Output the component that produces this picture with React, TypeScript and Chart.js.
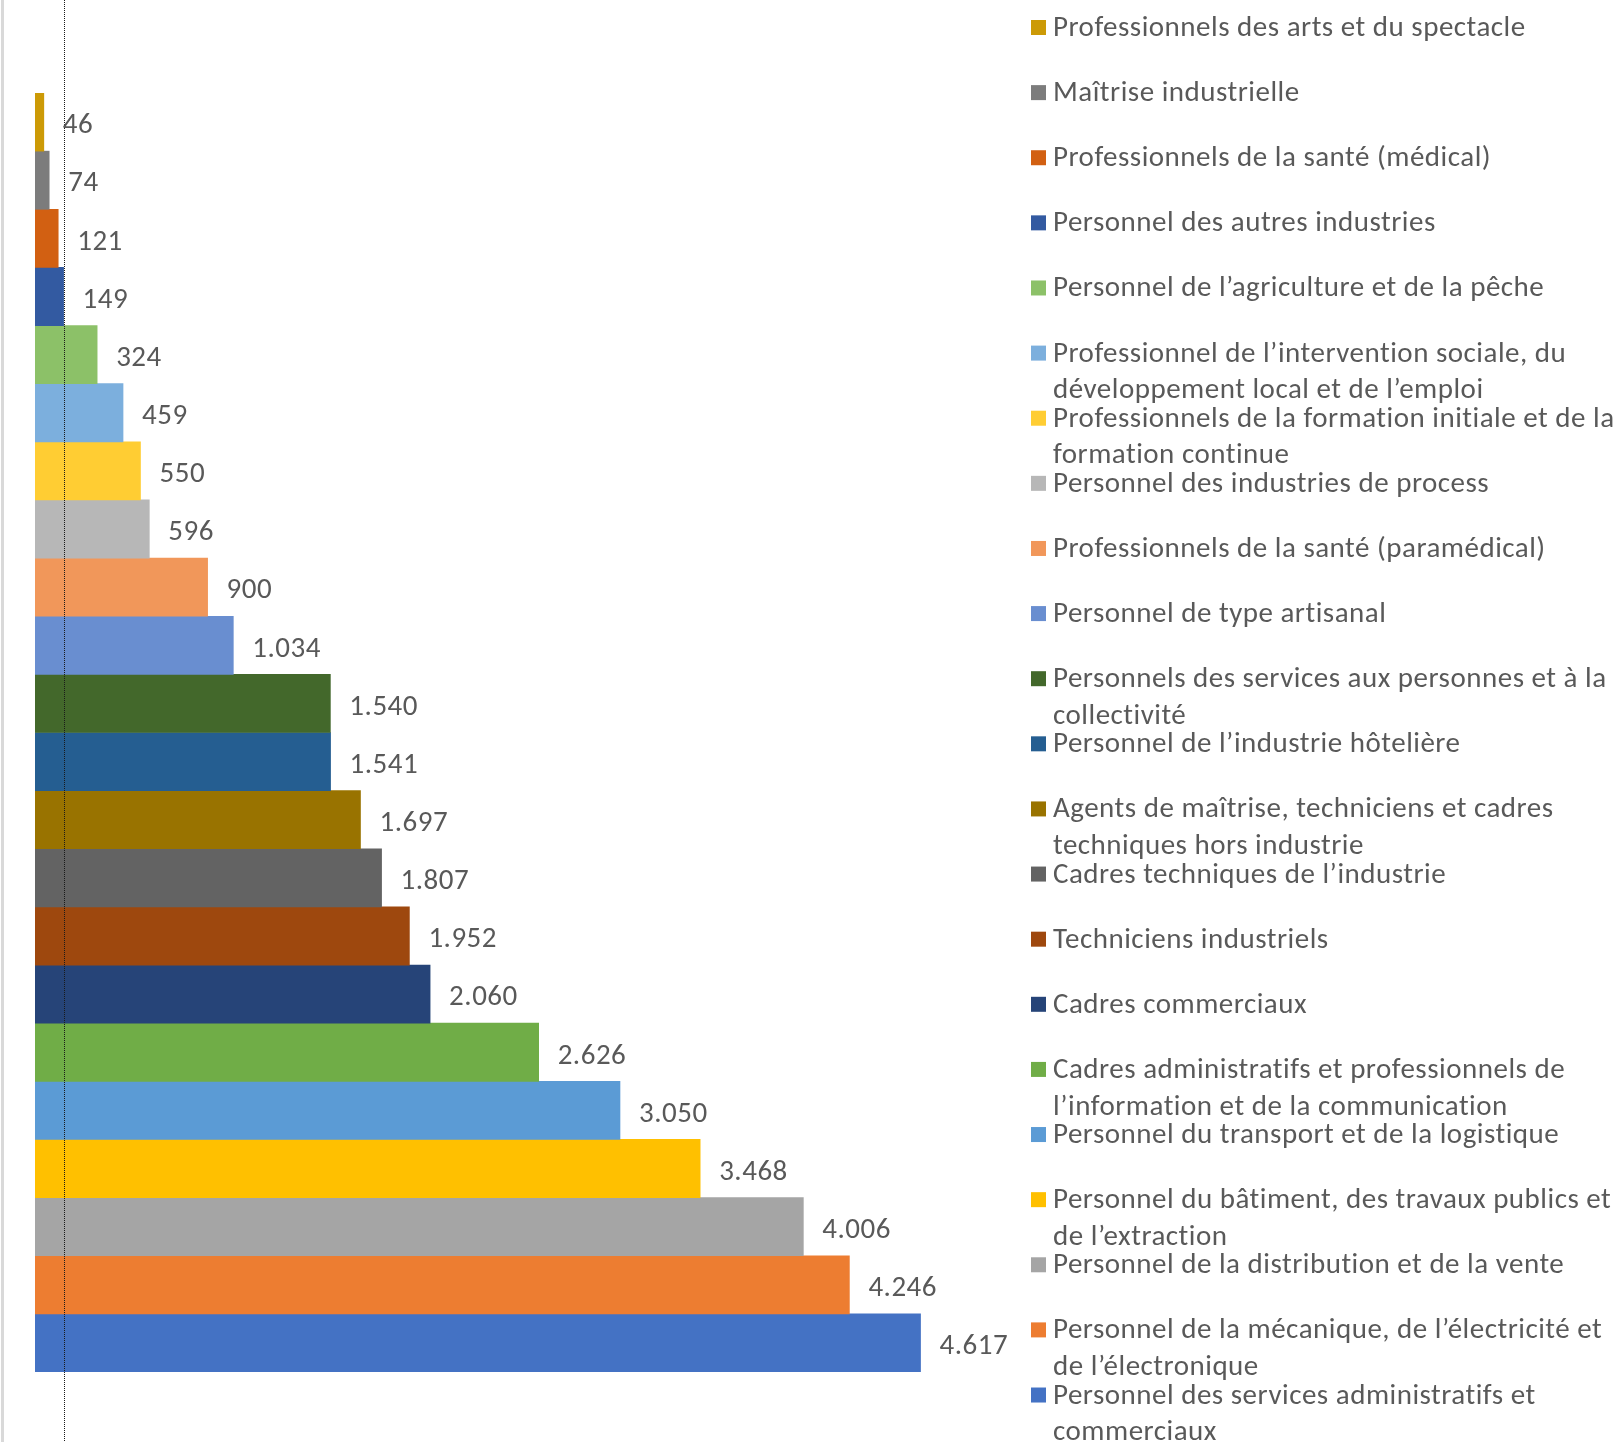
import React, { useEffect, useRef } from "react";
import { Chart, registerables } from "chart.js";

Chart.register(...registerables);

// Series (top to bottom), "\n" marks where the legend text wraps
const categories: string[] = [
  "Professionnels des arts et du spectacle",
  "Maîtrise industrielle",
  "Professionnels de la santé (médical)",
  "Personnel des autres industries",
  "Personnel de l’agriculture et de la pêche",
  "Professionnel de l’intervention sociale, du\ndéveloppement local et de l’emploi",
  "Professionnels de la formation initiale et de la\nformation continue",
  "Personnel des industries de process",
  "Professionnels de la santé (paramédical)",
  "Personnel de type artisanal",
  "Personnels des services aux personnes et à la\ncollectivité",
  "Personnel de l’industrie hôtelière",
  "Agents de maîtrise, techniciens et cadres\ntechniques hors industrie",
  "Cadres techniques de l’industrie",
  "Techniciens industriels",
  "Cadres commerciaux",
  "Cadres administratifs et professionnels de\nl’information et de la communication",
  "Personnel du transport et de la logistique",
  "Personnel du bâtiment, des travaux publics et\nde l’extraction",
  "Personnel de la distribution et de la vente",
  "Personnel de la mécanique, de l’électricité et\nde l’électronique",
  "Personnel des services administratifs et\ncommerciaux",
];

const values: number[] = [
  46, 74, 121, 149, 324, 459, 550, 596, 900, 1034, 1540, 1541, 1697, 1807,
  1952, 2060, 2626, 3050, 3468, 4006, 4246, 4617,
];

const colors: string[] = [
  "#CC9A06", "#7C7C7C", "#D26012", "#335AA1", "#8CC168", "#7CAFDD",
  "#FFCD33", "#B7B7B7", "#F1975A", "#698ED0", "#43682B", "#255E91",
  "#997300", "#636363", "#9E480E", "#264478", "#70AD47", "#5B9BD5",
  "#FFC000", "#A5A5A5", "#ED7D31", "#4472C4",
];

const axisMin = 0;
const axisMax = 5000;

const FONT_FAMILY = "Carlito, Lato, 'Liberation Sans', sans-serif";
const FONT_SIZE = 29;
const LETTER_SPACING = "0.5px";
const TEXT_COLOR = "#595959";

function formatValue(v: number): string {
  return String(v).replace(/\B(?=(\d{3})+(?!\d))/g, ".");
}

const decorationPlugin = {
  id: "decoration",
  beforeDraw(chart: any) {
    const ctx = chart.ctx;
    ctx.save();
    ctx.fillStyle = "#ffffff";
    ctx.fillRect(0, 0, chart.width, chart.height);
    ctx.fillStyle = "#D9D9D9";
    ctx.fillRect(1, 0, 3, chart.height);
    ctx.restore();
  },
  afterDatasetsDraw(chart: any) {
    const ctx = chart.ctx;
    ctx.save();
    ctx.strokeStyle = "#1a1a1a";
    ctx.lineWidth = 1;
    ctx.setLineDash([1, 1]);
    ctx.beginPath();
    ctx.moveTo(64.5, 0);
    ctx.lineTo(64.5, chart.height);
    ctx.stroke();
    ctx.restore();
  },
};

const valueLabelPlugin = {
  id: "valueLabels",
  afterDatasetsDraw(chart: any) {
    const ctx = chart.ctx;
    ctx.save();
    ctx.font = `${FONT_SIZE}px ${FONT_FAMILY}`;
    (ctx as any).letterSpacing = LETTER_SPACING;
    ctx.fillStyle = TEXT_COLOR;
    ctx.textAlign = "left";
    ctx.textBaseline = "middle";
    chart.data.datasets.forEach((ds: any, i: number) => {
      const meta = chart.getDatasetMeta(i);
      const el = meta.data[0];
      if (!el) return;
      ctx.fillText(formatValue(ds.data[0]), el.x + 19, el.y + 4);
    });
    ctx.restore();
  },
};

const legendPlugin = {
  id: "sideLegend",
  afterDraw(chart: any) {
    const ctx = chart.ctx;
    const boxX = 1031;
    const textX = 1053;
    const firstBaseline = 36;
    const step = 65.12;
    const lineH = 36.7;
    const box = 15;
    ctx.save();
    ctx.font = `${FONT_SIZE}px ${FONT_FAMILY}`;
    (ctx as any).letterSpacing = LETTER_SPACING;
    ctx.textAlign = "left";
    ctx.textBaseline = "alphabetic";
    categories.forEach((cat, i) => {
      const base = firstBaseline + i * step;
      ctx.fillStyle = colors[i];
      ctx.fillRect(boxX, base - box - 1, box, box);
      ctx.fillStyle = TEXT_COLOR;
      cat.split("\n").forEach((line, j) => {
        ctx.fillText(line, textX, base + j * lineH);
      });
    });
    ctx.restore();
  },
};

export default function App() {
  const canvasRef = useRef<HTMLCanvasElement | null>(null);

  useEffect(() => {
    if (!canvasRef.current) return;
    const chart = new Chart(canvasRef.current, {
      type: "bar",
      data: {
        labels: [""],
        datasets: categories.map((c, i) => ({
          label: c.replace("\n", " "),
          data: [values[i]],
          backgroundColor: colors[i],
          borderWidth: 0,
          categoryPercentage: 1,
          barPercentage: 1,
        })),
      },
      options: {
        indexAxis: "y",
        responsive: false,
        animation: false,
        layout: { padding: { left: 35, top: 93, bottom: 70, right: 628 } },
        scales: {
          x: { display: false, min: axisMin, max: axisMax },
          y: { display: false },
        },
        plugins: {
          legend: { display: false },
          tooltip: { enabled: false },
        },
      },
      plugins: [decorationPlugin, valueLabelPlugin, legendPlugin],
    } as any);
    return () => chart.destroy();
  }, []);

  return (
    <div style={{ position: "absolute", left: 0, top: 0, width: 1622, height: 1442 }}>
      <canvas ref={canvasRef} width={1622} height={1442} style={{ display: "block" }} />
    </div>
  );
}
